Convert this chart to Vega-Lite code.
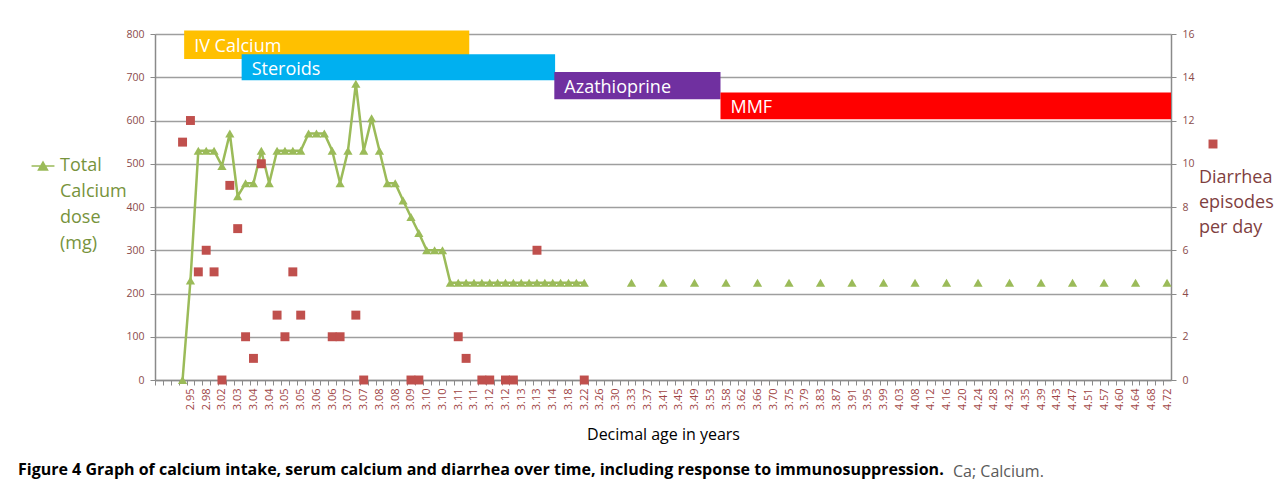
{
  "$schema": "https://vega.github.io/schema/vega-lite/v6.json",
  "autosize": {"type": "none"},
  "padding": {"left": 155, "top": 34, "right": 111, "bottom": 107},
  "width": 1016,
  "height": 346,
  "config": {
    "view": {"stroke": null},
    "font": "Open Sans",
    "axisX": {
      "labelAngle": -90, "labelOverlap": false, "labelFlush": false, "labelBound": false,
      "labelFont": "Open Sans", "labelFontSize": 11, "labelColor": "#A04545", "labelPadding": 3,
      "tickOffset": -3.94, "labelOffset": 3.94, "tickSize": 5, "tickColor": "#8A8A8A",
      "domainColor": "#8A8A8A", "domainWidth": 1.5, "grid": false,
      "titleFont": "Open Sans", "titleFontSize": 16, "titleFontWeight": "normal", "titleColor": "#000000", "titlePadding": 17
    },
    "axisY": {
      "labelFont": "Open Sans", "labelFontSize": 10.5, "labelColor": "#8B4B4B", "labelPadding": 6,
      "tickSize": 5, "tickColor": "#8A8A8A", "domainColor": "#8A8A8A", "domainWidth": 1.5
    }
  },
  "datasets": {
    "dose": [
      {"cat": 3, "dose": 0}, {"cat": 4, "dose": 230}, {"cat": 5, "dose": 530}, {"cat": 6, "dose": 530},
      {"cat": 7, "dose": 530}, {"cat": 8, "dose": 495}, {"cat": 9, "dose": 570}, {"cat": 10, "dose": 425},
      {"cat": 11, "dose": 455}, {"cat": 12, "dose": 455}, {"cat": 13, "dose": 530}, {"cat": 14, "dose": 455},
      {"cat": 15, "dose": 530}, {"cat": 16, "dose": 530}, {"cat": 17, "dose": 530}, {"cat": 18, "dose": 530},
      {"cat": 19, "dose": 570}, {"cat": 20, "dose": 570}, {"cat": 21, "dose": 570}, {"cat": 22, "dose": 530},
      {"cat": 23, "dose": 455}, {"cat": 24, "dose": 530}, {"cat": 25, "dose": 685}, {"cat": 26, "dose": 530},
      {"cat": 27, "dose": 605}, {"cat": 28, "dose": 530}, {"cat": 29, "dose": 455}, {"cat": 30, "dose": 455},
      {"cat": 31, "dose": 415}, {"cat": 32, "dose": 377}, {"cat": 33, "dose": 340}, {"cat": 34, "dose": 300},
      {"cat": 35, "dose": 300}, {"cat": 36, "dose": 300}, {"cat": 37, "dose": 225}, {"cat": 38, "dose": 225},
      {"cat": 39, "dose": 225}, {"cat": 40, "dose": 225}, {"cat": 41, "dose": 225}, {"cat": 42, "dose": 225},
      {"cat": 43, "dose": 225}, {"cat": 44, "dose": 225}, {"cat": 45, "dose": 225}, {"cat": 46, "dose": 225},
      {"cat": 47, "dose": 225}, {"cat": 48, "dose": 225}, {"cat": 49, "dose": 225}, {"cat": 50, "dose": 225},
      {"cat": 51, "dose": 225}, {"cat": 52, "dose": 225}, {"cat": 53, "dose": 225}, {"cat": 54, "dose": 225},
      {"cat": 60, "dose": 225}, {"cat": 64, "dose": 225}, {"cat": 68, "dose": 225}, {"cat": 72, "dose": 225},
      {"cat": 76, "dose": 225}, {"cat": 80, "dose": 225}, {"cat": 84, "dose": 225}, {"cat": 88, "dose": 225},
      {"cat": 92, "dose": 225}, {"cat": 96, "dose": 225}, {"cat": 100, "dose": 225}, {"cat": 104, "dose": 225},
      {"cat": 108, "dose": 225}, {"cat": 112, "dose": 225}, {"cat": 116, "dose": 225}, {"cat": 120, "dose": 225},
      {"cat": 124, "dose": 225}, {"cat": 128, "dose": 225}
    ],
    "diarrhea": [
      {"cat": 3, "episodes": 11}, {"cat": 4, "episodes": 12}, {"cat": 5, "episodes": 5}, {"cat": 6, "episodes": 6},
      {"cat": 7, "episodes": 5}, {"cat": 8, "episodes": 0}, {"cat": 9, "episodes": 9}, {"cat": 10, "episodes": 7},
      {"cat": 11, "episodes": 2}, {"cat": 12, "episodes": 1}, {"cat": 13, "episodes": 10}, {"cat": 15, "episodes": 3},
      {"cat": 16, "episodes": 2}, {"cat": 17, "episodes": 5}, {"cat": 18, "episodes": 3}, {"cat": 22, "episodes": 2},
      {"cat": 23, "episodes": 2}, {"cat": 25, "episodes": 3}, {"cat": 26, "episodes": 0}, {"cat": 32, "episodes": 0},
      {"cat": 33, "episodes": 0}, {"cat": 38, "episodes": 2}, {"cat": 39, "episodes": 1}, {"cat": 41, "episodes": 0},
      {"cat": 42, "episodes": 0}, {"cat": 44, "episodes": 0}, {"cat": 45, "episodes": 0}, {"cat": 48, "episodes": 6},
      {"cat": 54, "episodes": 0}
    ],
    "treatments": [
      {"treatment": "IV Calcium", "start": 3.2, "end": 39.4, "lo": 742, "hi": 808},
      {"treatment": "Steroids", "start": 10.5, "end": 50.3, "lo": 693, "hi": 753},
      {"treatment": "Azathioprine", "start": 50.2, "end": 71.3, "lo": 649, "hi": 712},
      {"treatment": "MMF", "start": 71.3, "end": 128.5, "lo": 603, "hi": 665}
    ]
  },
  "title": {
    "text": "Figure 4 Graph of calcium intake, serum calcium and diarrhea over time, including response to immunosuppression.",
    "subtitle": "Ca; Calcium.",
    "orient": "bottom",
    "anchor": "start",
    "frame": "group",
    "dx": -137,
    "offset": 19,
    "font": "Open Sans",
    "fontSize": 16,
    "fontWeight": "bold",
    "color": "#000000",
    "subtitleFont": "Open Sans",
    "subtitleFontSize": 16,
    "subtitleFontWeight": "normal",
    "subtitleColor": "#5A5A5A",
    "subtitlePadding": -14,
    "encode": {"subtitle": {"update": {"dx": {"value": 798}}}}
  },
  "layer": [
    {
      "layer": [
        {
          "data": {"name": "treatments"},
          "mark": {"type": "rect"},
          "encoding": {
            "x": {"field": "start", "type": "quantitative", "scale": {"domain": [-0.5, 128.5], "nice": false, "zero": false},
              "axis": {"title": "Decimal age in years", "tickCount": 130, "labelExpr": "datum.value >= 4 && datum.value % 2 == 0 ? ['2.95','2.98','3.02','3.03','3.04','3.04','3.05','3.05','3.06','3.06','3.07','3.07','3.08','3.08','3.09','3.10','3.10','3.11','3.11','3.12','3.12','3.13','3.13','3.14','3.18','3.22','3.26','3.30','3.33','3.37','3.41','3.45','3.49','3.53','3.58','3.62','3.66','3.70','3.75','3.79','3.83','3.87','3.91','3.95','3.99','4.03','4.08','4.12','4.16','4.20','4.24','4.28','4.32','4.35','4.39','4.43','4.47','4.51','4.57','4.60','4.64','4.68','4.72'][(datum.value - 4) / 2] : ''"}},
            "x2": {"field": "end"},
            "y": {"field": "lo", "type": "quantitative", "scale": {"domain": [0, 800], "nice": false},
              "axis": {"title": null, "values": [0, 100, 200, 300, 400, 500, 600, 700, 800], "grid": true, "gridColor": "#9E9E9E", "gridWidth": 1.5}},
            "y2": {"field": "hi"},
            "fill": {
              "field": "treatment", "type": "nominal", "legend": null,
              "scale": {"domain": ["IV Calcium", "Steroids", "Azathioprine", "MMF"], "range": ["#FFC000", "#00B0F0", "#7030A0", "#FF0000"]}
            }
          }
        },
        {
          "data": {"name": "dose"},
          "transform": [{"filter": "datum.cat <= 54"}],
          "mark": {"type": "line", "color": "#9BBB59", "strokeWidth": 2.5},
          "encoding": {
            "x": {"field": "cat", "type": "quantitative", "scale": {"domain": [-0.5, 128.5], "nice": false, "zero": false},
              "axis": {"title": "Decimal age in years", "tickCount": 130, "labelExpr": "datum.value >= 4 && datum.value % 2 == 0 ? ['2.95','2.98','3.02','3.03','3.04','3.04','3.05','3.05','3.06','3.06','3.07','3.07','3.08','3.08','3.09','3.10','3.10','3.11','3.11','3.12','3.12','3.13','3.13','3.14','3.18','3.22','3.26','3.30','3.33','3.37','3.41','3.45','3.49','3.53','3.58','3.62','3.66','3.70','3.75','3.79','3.83','3.87','3.91','3.95','3.99','4.03','4.08','4.12','4.16','4.20','4.24','4.28','4.32','4.35','4.39','4.43','4.47','4.51','4.57','4.60','4.64','4.68','4.72'][(datum.value - 4) / 2] : ''"}},
            "y": {"field": "dose", "type": "quantitative", "scale": {"domain": [0, 800], "nice": false},
              "axis": {"title": null, "values": [0, 100, 200, 300, 400, 500, 600, 700, 800], "grid": true, "gridColor": "#9E9E9E", "gridWidth": 1.5}}
          }
        },
        {
          "data": {"name": "dose"},
          "mark": {"type": "point", "filled": true, "shape": "triangle-up", "size": 85, "opacity": 1},
          "encoding": {
            "x": {"field": "cat", "type": "quantitative", "scale": {"domain": [-0.5, 128.5], "nice": false, "zero": false},
              "axis": {"title": "Decimal age in years", "tickCount": 130, "labelExpr": "datum.value >= 4 && datum.value % 2 == 0 ? ['2.95','2.98','3.02','3.03','3.04','3.04','3.05','3.05','3.06','3.06','3.07','3.07','3.08','3.08','3.09','3.10','3.10','3.11','3.11','3.12','3.12','3.13','3.13','3.14','3.18','3.22','3.26','3.30','3.33','3.37','3.41','3.45','3.49','3.53','3.58','3.62','3.66','3.70','3.75','3.79','3.83','3.87','3.91','3.95','3.99','4.03','4.08','4.12','4.16','4.20','4.24','4.28','4.32','4.35','4.39','4.43','4.47','4.51','4.57','4.60','4.64','4.68','4.72'][(datum.value - 4) / 2] : ''"}},
            "y": {"field": "dose", "type": "quantitative", "scale": {"domain": [0, 800], "nice": false},
              "axis": {"title": null, "values": [0, 100, 200, 300, 400, 500, 600, 700, 800], "grid": true, "gridColor": "#9E9E9E", "gridWidth": 1.5}},
            "color": {
              "datum": "Total Calcium dose (mg)", "type": "nominal",
              "scale": {"domain": ["Total Calcium dose (mg)"], "range": ["#9BBB59"]},
              "legend": {
                "orient": "none",
                "legendX": -121,
                "legendY": 123,
                "symbolType": "M-1.47,0H1.47M-0.58,0.5L0,-0.52L0.58,0.5Z",
                "symbolSize": 243,
                "symbolStrokeColor": "#9BBB59",
                "symbolStrokeWidth": 1.5,
                "symbolFillColor": "#9BBB59",
                "labelExpr": "''",
                "labelOffset": 0,
                "title": ["Total", "Calcium", "dose", "(mg)"],
                "titleOrient": "right",
                "titleAnchor": "start",
                "titleBaseline": "top",
                "titleFont": "Open Sans",
                "titleFontSize": 18,
                "titleFontWeight": "normal",
                "titleLineHeight": 26,
                "titleColor": "#77933C",
                "titlePadding": 3
              }
            }
          }
        },
        {
          "data": {"name": "treatments"},
          "mark": {"type": "text", "align": "left", "baseline": "middle", "dx": 10, "dy": 16, "font": "Open Sans", "fontSize": 18, "color": "#FFFFFF"},
          "encoding": {
            "x": {"field": "start", "type": "quantitative", "scale": {"domain": [-0.5, 128.5], "nice": false, "zero": false},
              "axis": {"title": "Decimal age in years", "tickCount": 130, "labelExpr": "datum.value >= 4 && datum.value % 2 == 0 ? ['2.95','2.98','3.02','3.03','3.04','3.04','3.05','3.05','3.06','3.06','3.07','3.07','3.08','3.08','3.09','3.10','3.10','3.11','3.11','3.12','3.12','3.13','3.13','3.14','3.18','3.22','3.26','3.30','3.33','3.37','3.41','3.45','3.49','3.53','3.58','3.62','3.66','3.70','3.75','3.79','3.83','3.87','3.91','3.95','3.99','4.03','4.08','4.12','4.16','4.20','4.24','4.28','4.32','4.35','4.39','4.43','4.47','4.51','4.57','4.60','4.64','4.68','4.72'][(datum.value - 4) / 2] : ''"}},
            "y": {"field": "hi", "type": "quantitative", "scale": {"domain": [0, 800], "nice": false},
              "axis": {"title": null, "values": [0, 100, 200, 300, 400, 500, 600, 700, 800], "grid": true, "gridColor": "#9E9E9E", "gridWidth": 1.5}},
            "text": {"field": "treatment", "type": "nominal"}
          }
        }
      ]
    },
    {
      "data": {"name": "diarrhea"},
      "mark": {"type": "point", "filled": true, "color": "#C0504D", "size": 80, "opacity": 1},
      "encoding": {
        "x": {"field": "cat", "type": "quantitative", "scale": {"domain": [-0.5, 128.5], "nice": false, "zero": false},
          "axis": {"title": "Decimal age in years", "tickCount": 130, "labelExpr": "datum.value >= 4 && datum.value % 2 == 0 ? ['2.95','2.98','3.02','3.03','3.04','3.04','3.05','3.05','3.06','3.06','3.07','3.07','3.08','3.08','3.09','3.10','3.10','3.11','3.11','3.12','3.12','3.13','3.13','3.14','3.18','3.22','3.26','3.30','3.33','3.37','3.41','3.45','3.49','3.53','3.58','3.62','3.66','3.70','3.75','3.79','3.83','3.87','3.91','3.95','3.99','4.03','4.08','4.12','4.16','4.20','4.24','4.28','4.32','4.35','4.39','4.43','4.47','4.51','4.57','4.60','4.64','4.68','4.72'][(datum.value - 4) / 2] : ''"}},
        "y": {
          "field": "episodes", "type": "quantitative",
          "scale": {"domain": [0, 16], "nice": false},
          "axis": {"orient": "right", "title": null, "values": [0, 2, 4, 6, 8, 10, 12, 14, 16], "grid": false}
        },
        "shape": {
          "datum": "Diarrhea episodes per day", "type": "nominal",
          "scale": {"domain": ["Diarrhea episodes per day"], "range": ["square"]},
          "legend": {
            "orient": "none",
            "legendX": 1044,
            "legendY": 105,
            "symbolSize": 80,
            "symbolOffset": 9,
            "symbolFillColor": "#A0302E",
            "symbolStrokeColor": "#D8D8D8",
            "symbolStrokeWidth": 1,
            "labelExpr": "''",
            "labelOffset": 0,
            "title": ["Diarrhea", "episodes", "per day"],
            "titleOrient": "bottom",
            "titleAnchor": "start",
            "titleBaseline": "top",
            "titleFont": "Open Sans",
            "titleFontSize": 18,
            "titleFontWeight": "normal",
            "titleLineHeight": 25,
            "titleColor": "#7F3F3F",
            "titlePadding": 19
          }
        }
      }
    }
  ],
  "resolve": {"scale": {"y": "independent"}}
}
